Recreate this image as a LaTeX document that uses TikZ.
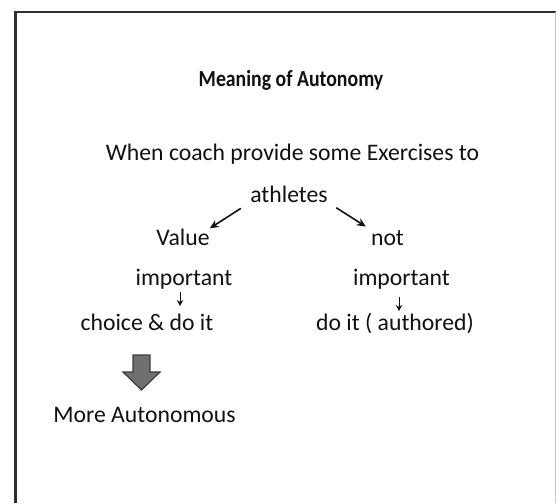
\documentclass[tikz,border=0pt]{standalone}
\usepackage{fontspec}
\setmainfont{Carlito}
\usetikzlibrary{arrows.meta}
\definecolor{ink}{HTML}{111111}
\definecolor{framecol}{HTML}{2E2E2E}
\definecolor{blockfill}{HTML}{707070}
\definecolor{blockedge}{HTML}{3C3C3C}
\begin{document}
\begin{tikzpicture}[x=1pt,y=-1pt,
  txt/.style={anchor=base,inner sep=0pt,text=ink,font=\fontsize{23.7}{28}\selectfont},
  ttl/.style={anchor=base,inner sep=0pt,text=ink,font=\fontsize{23}{28}\selectfont\bfseries},
  bigarrow/.style={draw=ink,line width=1.6pt,-{Stealth[length=9pt,width=8pt]}},
  tinyarrow/.style={draw=ink,line width=1pt,-{Stealth[length=6pt,width=6.5pt]}}]
\useasboundingbox (0,0) rectangle (556,503);

% frame
\draw[framecol,line width=2.6pt] (15.5,503) -- (15.5,12) -- (556,12);
\draw[gray!45,line width=1pt] (555,12) -- (555,503);

% texts
\node[ttl] (title) at (291,86) {\scalebox{0.86}[1]{Meaning of Autonomy}};
\node[txt] (intro) at (292.5,160) {When coach provide some Exercises to};
\node[txt] (athletes) at (289,202) {athletes};
\node[txt] (value) at (183,245) {Value};
\node[txt] (not) at (387.5,245) {not};
\node[txt] (impL) at (184,285) {important};
\node[txt] (impR) at (401.5,285) {important};
\node[txt] (choice) at (147,330) {choice \& do it};
\node[txt] (doit) at (395,330) {do it ( authored)};
\node[txt] (more) at (144.5,422) {More Autonomous};

% branches from the athletes line
\draw[bigarrow,shorten <=11pt] (athletes.south west) -- (value.north east);
\draw[bigarrow,shorten <=10pt,shorten >=6pt] (athletes.south east) -- (not.north west);

% short downward arrows
\coordinate (dL1) at (180,292);
\coordinate (dL2) at (180,306);
\coordinate (dR1) at (399,297);
\coordinate (dR2) at (399,311);
\draw[tinyarrow] (dL1) -- (dL2);
\draw[tinyarrow] (dR1) -- (dR2);

% block arrow
\filldraw[fill=blockfill,draw=blockedge,line width=1.2pt,line join=miter]
  (133,355) -- (150,355) -- (150,372) -- (160,372) -- (141.5,390)
  -- (123,372) -- (133,372) -- cycle;
\end{tikzpicture}
\end{document}
